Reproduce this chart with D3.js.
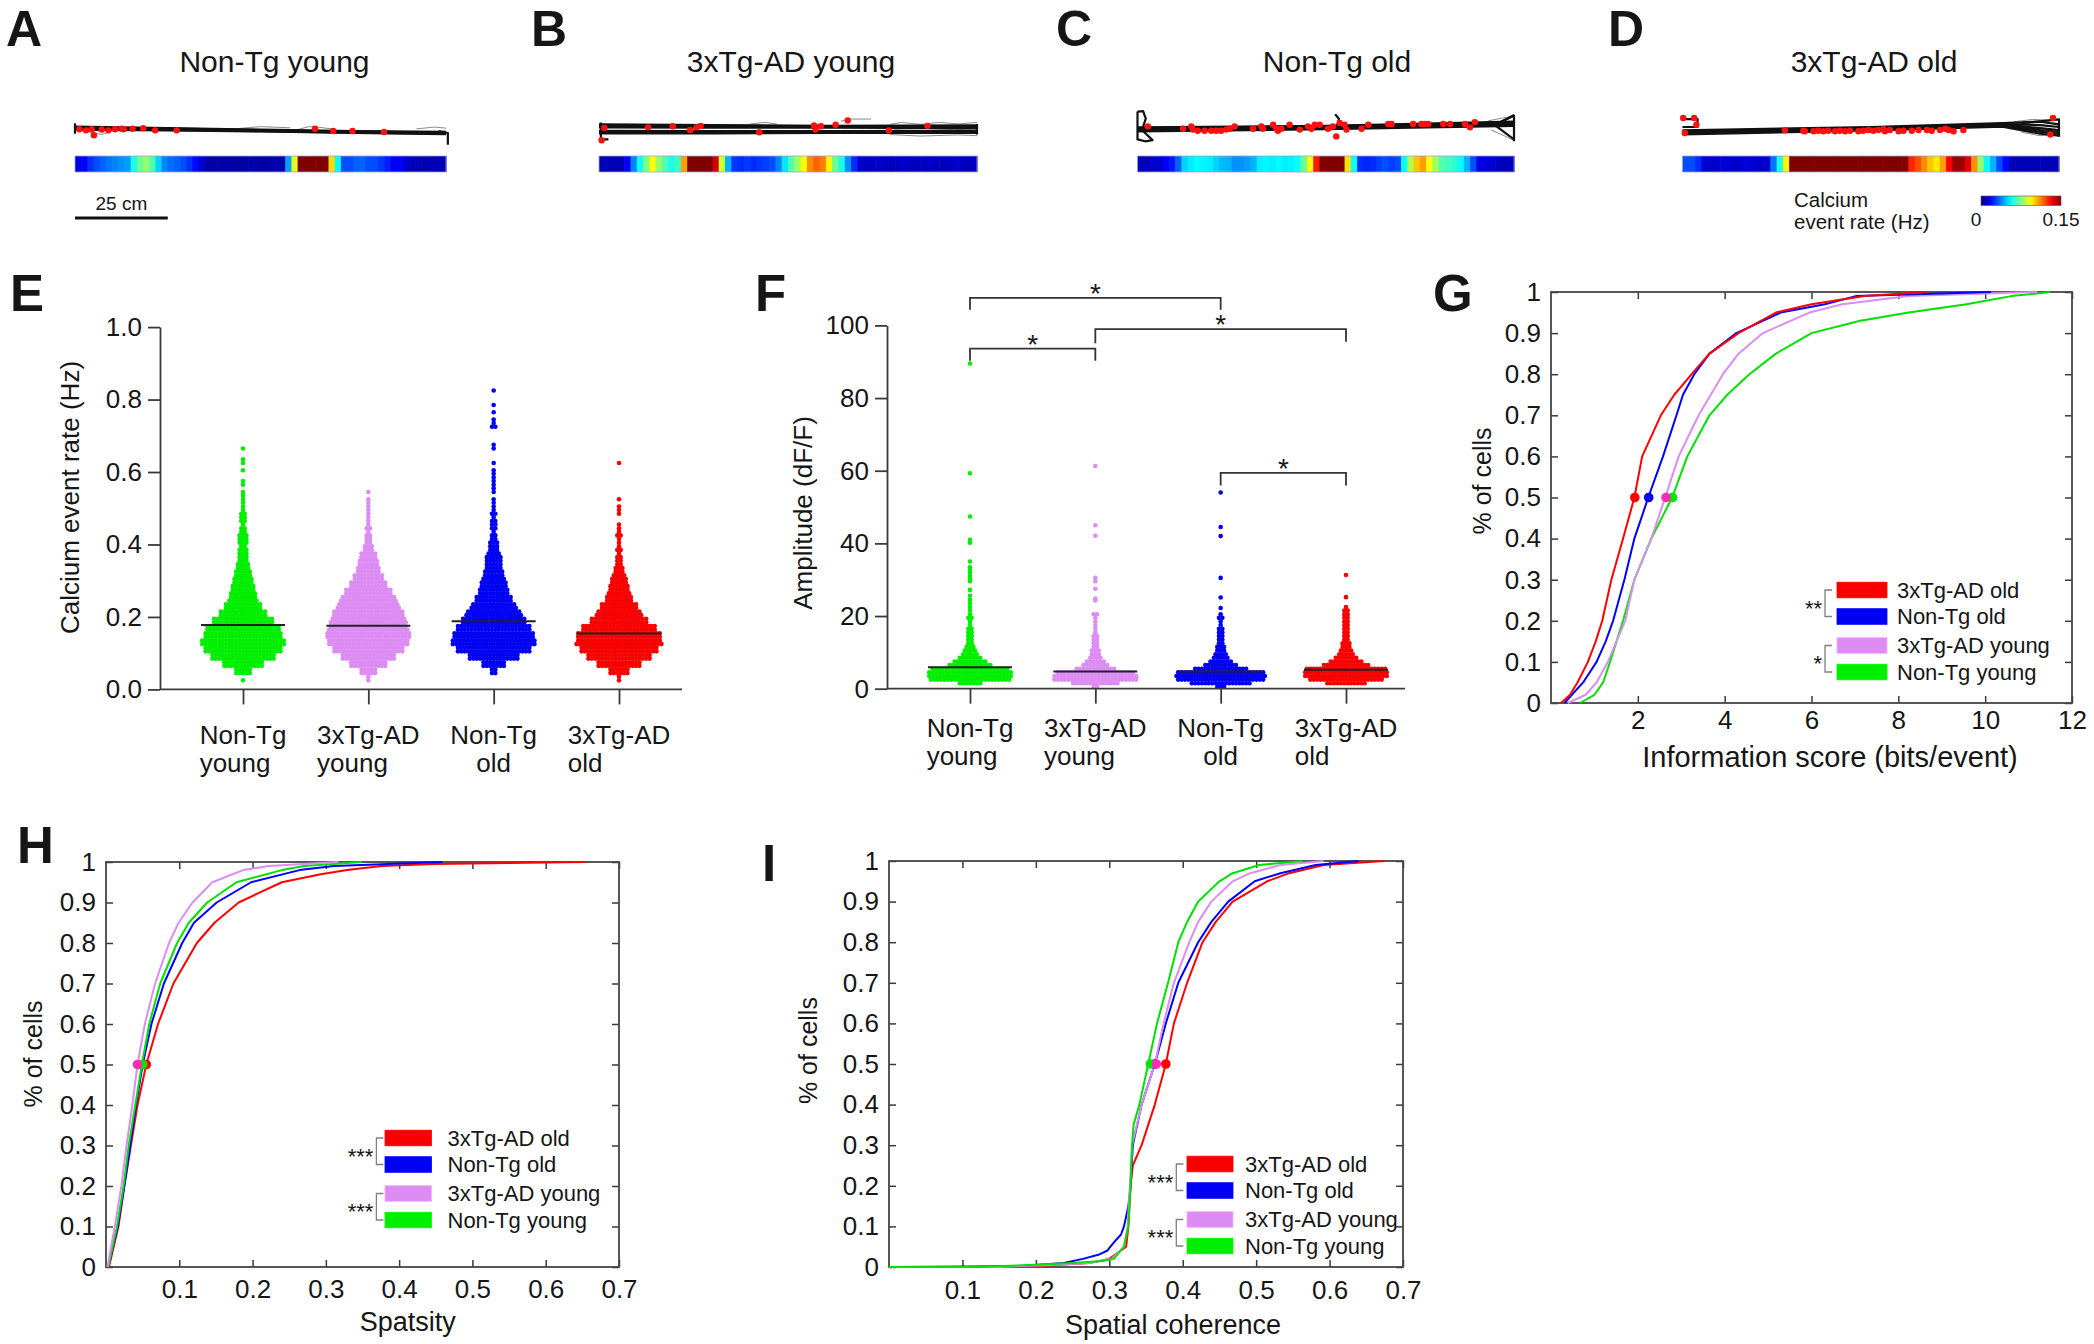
<!DOCTYPE html>
<html><head><meta charset="utf-8">
<script src="https://cdn.jsdelivr.net/npm/d3@7"></script>
<style>
body{margin:0;background:#fff}
svg{display:block}
text{font-family:"Liberation Sans",Arial,Helvetica,sans-serif;fill:#161616}
</style>
</head><body>
<svg id="fig" width="2094" height="1344"></svg>
<script>
// ===================== DATA =====================
const groups = ["Non-Tg young","3xTg-AD young","Non-Tg old","3xTg-AD old"];
const groupLines = [["Non-Tg","young"],["3xTg-AD","young"],["Non-Tg","old"],["3xTg-AD","old"]];
const trackTitles = ["Non-Tg young","3xTg-AD young","Non-Tg old","3xTg-AD old"];
const trackLetters = ["A","B","C","D"];

// Calcium event rate (Hz) along the 100 cm track, 60 spatial bins
const heatA = [0.015,0.018,0.026,0.030,0.033,0.036,0.038,0.040,0.042,0.060,
 0.072,0.078,0.068,0.050,0.038,0.035,0.033,0.030,0.026,0.020,
 0.012,0.006,0.005,0.006,0.007,0.006,0.005,0.006,0.007,0.006,
 0.005,0.006,0.007,0.006,0.042,0.090,0.150,0.150,0.150,0.150,
 0.150,0.099,0.057,0.030,0.030,0.033,0.033,0.030,0.030,0.027,
 0.023,0.018,0.018,0.012,0.008,0.008,0.007,0.008,0.008,0.008];
const heatB = [0.008,0.008,0.008,0.008,0.018,0.038,0.057,0.075,0.093,0.078,
 0.068,0.060,0.065,0.108,0.150,0.150,0.150,0.150,0.138,0.087,
 0.045,0.027,0.025,0.027,0.025,0.027,0.028,0.030,0.038,0.053,
 0.068,0.080,0.093,0.111,0.117,0.113,0.095,0.072,0.060,0.040,
 0.025,0.012,0.010,0.010,0.011,0.010,0.009,0.010,0.011,0.010,
 0.009,0.010,0.011,0.010,0.009,0.010,0.011,0.010,0.009,0.010];
const heatC = [0.009,0.009,0.012,0.012,0.018,0.022,0.033,0.050,0.054,0.056,
 0.055,0.054,0.050,0.046,0.045,0.040,0.040,0.042,0.045,0.054,
 0.055,0.054,0.056,0.054,0.055,0.057,0.072,0.093,0.128,0.150,
 0.150,0.150,0.150,0.098,0.057,0.025,0.024,0.025,0.028,0.030,
 0.028,0.030,0.057,0.083,0.102,0.108,0.093,0.080,0.068,0.066,
 0.063,0.057,0.045,0.030,0.015,0.014,0.012,0.010,0.009,0.009];
const heatD = [0.030,0.030,0.025,0.012,0.011,0.012,0.013,0.012,0.011,0.012,
 0.013,0.012,0.011,0.012,0.036,0.060,0.095,0.150,0.150,0.150,
 0.150,0.150,0.150,0.150,0.150,0.150,0.150,0.150,0.150,0.150,
 0.150,0.150,0.150,0.150,0.150,0.150,0.126,0.120,0.111,0.102,
 0.097,0.108,0.132,0.146,0.146,0.135,0.110,0.078,0.057,0.045,
 0.030,0.020,0.008,0.008,0.008,0.008,0.008,0.008,0.008,0.008];

// Running trajectories: [position along track (cm), lateral offset (cm)]
const trajA = [
 [[0,-0.9],[25,-0.5],[50,-0.1],[75,0.3],[100,0.5]],
 [[0,-0.6],[25,-0.35],[50,0.0],[75,0.4],[100,0.65]],
 [[0,-0.5],[25,-0.3],[50,0.1],[75,0.5],[100,0.8]],
 [[0,-0.3],[25,0.0],[50,0.3],[75,0.7],[100,1.0]],
 [[0,-0.7],[25,-0.2],[50,0.2],[75,0.4],[100,0.7]],
 [[0,-0.1],[25,0.1],[50,0.4],[75,0.8],[100,1.1]],
 [[0,-1.8],[0,1.0]],
 [[98,0.3],[100.5,0.8],[100.5,4.0]]];
const fuzzA = [[[44,-0.4],[50,-0.9],[58,-0.6]],[[92,-0.3],[97,-0.8],[100,-0.5]],[[4,0.6],[7,1.2],[9,0.7]],[[60,-0.1],[63,-0.9],[66,-0.7],[70,-0.2]]];
const trajB = [
 [[0,-1.5],[30,-1.3],[60,-1.1],[100,-1.2]],
 [[0,-1.2],[30,-1.05],[60,-0.9],[100,-0.95]],
 [[0,-1.0],[30,-0.9],[60,-0.8],[100,-0.8]],
 [[0,-0.7],[30,-0.6],[60,-0.6],[100,-0.5]],
 [[0,0.2],[30,0.3],[60,0.3],[100,0.2]],
 [[0,0.45],[30,0.5],[60,0.45],[100,0.4]],
 [[0,0.6],[30,0.65],[60,0.6],[100,0.55]],
 [[0,0.9],[30,0.9],[60,0.8],[100,0.8]],
 [[0.5,-2.0],[0.5,2.5],[2.5,2.5]],
 [[100,-1.6],[100,1.2]]];
const fuzzB = [[[77,-1.5],[80,-2.0],[85,-1.5],[90,-2.0],[95,-1.6],[100,-2.0]],
 [[77,1.2],[85,1.6],[95,1.3],[100,1.5]],[[64,-2.3],[66,-2.9],[72,-2.9]],[[40,-1.6],[44,-2.0],[47,-1.6]],
 [[78,-0.2],[86,-0.4],[94,-0.1],[100,-0.3]]];
const trajC = [
 [[0,-0.7],[50,-1.1],[100,-2.2]],
 [[0,-0.5],[50,-0.95],[100,-2.0]],
 [[0,-0.3],[50,-0.8],[100,-1.8]],
 [[0,-0.1],[50,-0.65],[100,-1.6]],
 [[0,0.1],[50,-0.5],[100,-1.4]],
 [[0,0.4],[50,-0.2],[100,-1.1]],
 [[0,-4.9],[1.5,-5.0],[2.2,-3.0],[1.2,0],[4.0,2.7],[2.0,3.0],[0,2.5],[0,-4.9]],
 [[52.5,-4.2],[53.5,-3.0],[53,-1.0]],
 [[95,-1.5],[100,-3.8],[100,3.0]],
 [[95,-1.2],[100,2.5]],
 [[96,-1.8],[100,-4.0]]];
const fuzzC = [[[93,-2.4],[97,-3.2],[100,-3.6]],[[94,0],[98,1.8],[100,2.8]]];
const trajD = [
 [[0,0.1],[50,-0.8],[85,-1.8],[95,-2.2],[100,-1.5]],
 [[0,0.3],[50,-0.65],[85,-1.65],[95,-1.3],[100,-0.8]],
 [[0,0.5],[50,-0.5],[85,-1.5],[95,-0.5],[100,0]],
 [[0,0.7],[50,-0.35],[85,-1.35],[95,0],[100,0.5]],
 [[0,0.9],[50,-0.2],[85,-1.2],[95,0.5],[100,1.0]],
 [[0,1.2],[50,0.1],[85,-0.9],[95,1.0],[100,1.5]],
 [[0,-2.9],[4,-2.9],[4,-0.8],[0,-0.8]],
 [[90,-1.8],[100,-2.8],[100,1.8]]];
const fuzzD = [[[88,-2.2],[93,-2.8],[98,-2.6]],[[90,0.6],[95,1.5],[99,1.2]]];

// Calcium events: [position (cm), lateral offset (cm)]
const eventsA = [[1.2,-0.2],[3.0,0.1],[4.5,-0.2],[5.1,1.4],[7.2,-0.15],[9.0,0.1],[10.8,-0.2],[12.6,-0.35],[13.1,-0.2],
 [15.5,-0.35],[18.4,-0.5],[21.6,0.1],[27.4,0.1],[64.7,-0.35],[69.6,0.27],[74.8,0.27],[83.3,0.54]];
const eventsB = [[1.4,-0.53],[0.7,2.7],[13.0,-0.7],[19.5,-1.0],[24.1,0],[25.8,-0.7],[26.9,-1.1],[42.4,0.6],
 [56.9,-1.2],[57.3,-0.1],[58.7,-1.0],[62.6,-1.4],[65.8,-2.5],[76.7,0.1],[86.9,-1.1]];
const eventsC = [[2.75,-0.97],[12.1,-0.35],[14.3,-0.97],[14.7,-0.1],[16.0,0.18],[17.8,0.18],[19.6,0.18],[20.9,0.18],
 [22.2,0.18],[23.6,-0.1],[24.5,-0.35],[25.8,-0.97],[30.7,-0.35],[32.9,-0.97],[33.3,-0.35],[36.0,-1.4],[36.9,-0.35],
 [37.3,0.18],[38.2,-0.35],[40.4,-1.4],[43.1,-0.1],[45.3,-0.97],[46.2,-0.35],[47.1,-1.4],[48.4,-1.4],[50.6,-0.35],
 [51.9,-0.97],[52.8,1.7],[53.7,-1.86],[55.0,-1.4],[55.5,-0.1],[59.5,-0.35],[61.3,-1.4],[66.6,-1.6],[67.5,-1.6],
 [73.2,-1.6],[75.4,-1.6],[76.3,-1.6],[77.2,-1.6],[81.2,-1.6],[83.0,-1.6],[87.0,-1.6],[88.3,-0.7],[89.6,-2.1]];
const eventsD = [[0.18,-3.2],[3.1,-3.2],[3.7,-1.4],[0.62,0.8],[98.4,-3.2],[97.7,1.2],
 [27.2,0.09],[32.1,0.18],[32.5,0.35],[34.8,0.35],[36.1,0.18],[37.4,0.35],[38.7,0.18],[40.5,0.35],[41.8,0.18],
 [43.2,0.35],[44.5,0.18],[46.7,0.35],[48.0,0.18],[49.4,0],[50.7,0.18],[52.0,0],[53.4,-0.18],[53.8,0.35],
 [55.1,0],[57.4,0.35],[58.7,0.18],[60.9,0.18],[62.7,0],[64.9,0],[66.2,0.18],[68.4,0],[69.8,-0.35],[70.7,0],
 [72.0,0.35],[74.6,0]];

const scaleBarCm = 25;
const colorbarDomain = [0, 0.15];
const colorbarLabels = ["0", "0.15"];

// E: calcium event rate — number of cells per 0.02 Hz bin (from 0 Hz)
const rateBinWidth = 0.02;
const rateCountsNonTgYoung = [0,1,10,24,38,46,50,46,44,36,28,22,17,15,13,11,9,7,6,5,6,5,3,4,3,2,2,1,2,0,1,2,0,1];
const rateCounts3xTgYoung = [0,2,10,22,32,42,48,50,47,45,42,37,33,28,22,18,14,12,10,6,4,3,3,2,2,2,1,1];
const rateCountsNonTgOld = [0,0,4,14,30,44,50,48,44,38,33,27,22,18,16,13,11,10,9,6,5,3,4,3,3,2,1,2,2,2,1,1,0,2,0,0,3,1,1,1,0,1];
const rateCounts3xTgOld = [0,2,12,26,38,46,51,50,44,34,27,22,16,13,11,9,6,4,3,3,2,3,2,0,2,1,1,0,0,0,0,1];
const rateMeans = [0.178, 0.176, 0.188, 0.154];
const rateTicks = [0, 0.2, 0.4, 0.6, 0.8, 1.0];

// F: amplitude — number of cells per 1 dF/F bin (from 0), plus isolated high values
const ampBinWidth = 1;
const ampCountsNonTgYoung = [0,7,24,25,25,23,13,10,7,5,4,3,2,2,2,2,2,1,1,2,1,1,1,1,1];
const ampCounts3xTgYoung = [2,14,25,25,23,12,8,6,4,3,3,2,2,2,2,1,1,1,1,1,2];
const ampCountsNonTgOld = [3,18,26,27,26,16,10,7,5,4,3,3,2,2,2,2,2,1,1,2,1];
const ampCounts3xTgOld = [0,12,22,25,25,24,14,10,7,5,4,3,3,2,2,2,2,2,2,2,2,2,1];
const ampHighNonTgYoung = [89.5,59.3,47.4,41.0,40.2,35.0,33.4,32.8,32.0,31.0,30.2,29.6,27.2,25.6];
const ampHigh3xTgYoung = [61.3,45.0,42.1,30.5,29.6,27.5,24.8,24.3];
const ampHighNonTgOld = [54.0,44.5,42.0,30.5,25.1,22.2];
const ampHigh3xTgOld = [31.3,25.2];
const ampMeans = [5.9, 4.7, 4.7, 5.2];
const ampTicks = [0, 20, 40, 60, 80, 100];
// significance brackets: group pair, bar level, drop levels (dF/F units)
const ampSigPairs = [[0,2],[0,1],[1,3],[2,3]];
const ampSigBar = [107.6, 93.6, 99.0, 59.4];
const ampSigDrop = [[104.3,104.3],[90.3,90.3],[95.1,95.5],[55.9,55.9]];
const ampSigLabel = ["*","*","*","*"];

// G: cumulative distributions of information score, [bits/event, fraction]
const infoNonTgYoung = [[0.67,0],[1.0,0.02],[1.2,0.05],[1.36,0.1],[1.51,0.15],[1.66,0.2],[1.92,0.3],[2.31,0.4],[2.79,0.5],[3.14,0.6],[3.65,0.7],[4.06,0.75],[4.57,0.8],[5.18,0.85],[6.0,0.9],[7.12,0.93],[8.24,0.95],[9.57,0.97],[10.6,0.99],[11.5,1]];
const info3xTgYoung = [[0.39,0],[0.8,0.02],[1.05,0.05],[1.31,0.1],[1.51,0.15],[1.71,0.2],[1.92,0.3],[2.31,0.4],[2.63,0.5],[2.94,0.6],[3.40,0.7],[3.96,0.8],[4.32,0.85],[4.88,0.9],[5.95,0.95],[6.71,0.97],[8.24,0.99],[11.2,1]];
const infoNonTgOld = [[0.31,0],[0.74,0.05],[1.05,0.1],[1.26,0.15],[1.43,0.2],[1.69,0.3],[1.92,0.4],[2.24,0.5],[2.58,0.6],[2.89,0.7],[3.04,0.75],[3.30,0.8],[3.65,0.85],[4.27,0.9],[5.29,0.95],[6.31,0.97],[7.02,0.99],[10.13,1]];
const info3xTgOld = [[0.23,0],[0.44,0.02],[0.61,0.05],[0.85,0.1],[1.03,0.15],[1.18,0.2],[1.39,0.3],[1.66,0.4],[1.92,0.5],[2.10,0.6],[2.53,0.7],[2.84,0.75],[3.24,0.8],[3.65,0.85],[4.32,0.9],[5.18,0.95],[6.0,0.97],[7.22,0.99],[8.65,1]];
const infoMedians = [2.8, 2.65, 2.25, 1.93];
const infoTicks = [2,4,6,8,10,12];
const infoSig = ["**","*"];

// H: sparsity
const sparNonTgYoung = [[0.003,0],[0.015,0.1],[0.024,0.2],[0.031,0.3],[0.040,0.4],[0.049,0.5],[0.059,0.6],[0.074,0.7],[0.097,0.8],[0.113,0.85],[0.138,0.9],[0.178,0.95],[0.240,0.98],[0.270,0.99],[0.349,1]];
const spar3xTgYoung = [[0.002,0],[0.012,0.1],[0.021,0.2],[0.028,0.3],[0.036,0.4],[0.043,0.5],[0.053,0.6],[0.067,0.7],[0.086,0.8],[0.099,0.85],[0.118,0.9],[0.145,0.95],[0.187,0.98],[0.222,0.99],[0.317,1]];
const sparNonTgOld = [[0.003,0],[0.016,0.1],[0.025,0.2],[0.033,0.3],[0.041,0.4],[0.050,0.5],[0.062,0.6],[0.079,0.7],[0.104,0.8],[0.120,0.85],[0.151,0.9],[0.198,0.95],[0.264,0.98],[0.311,0.99],[0.459,1]];
const spar3xTgOld = [[0.004,0],[0.017,0.1],[0.025,0.2],[0.034,0.3],[0.043,0.4],[0.055,0.5],[0.071,0.6],[0.092,0.7],[0.124,0.8],[0.148,0.85],[0.181,0.9],[0.216,0.93],[0.240,0.95],[0.293,0.97],[0.329,0.98],[0.376,0.99],[0.447,0.995],[0.654,1]];
const sparMedians = [0.050, 0.043, 0.050, 0.055];
const sparTicks = [0.1,0.2,0.3,0.4,0.5,0.6,0.7];
const sparSig = ["***","***"];

// I: spatial coherence
const cohNonTgYoung = [[0,0],[0.12,0],[0.19,0.005],[0.25,0.01],[0.291,0.015],[0.306,0.02],[0.320,0.05],[0.326,0.1],[0.329,0.2],[0.331,0.3],[0.333,0.35],[0.341,0.4],[0.353,0.5],[0.365,0.6],[0.380,0.7],[0.394,0.8],[0.406,0.85],[0.421,0.9],[0.450,0.95],[0.468,0.97],[0.504,0.99],[0.563,1]];
const coh3xTgYoung = [[0,0],[0.15,0],[0.22,0.005],[0.273,0.01],[0.303,0.02],[0.320,0.05],[0.325,0.1],[0.328,0.2],[0.331,0.3],[0.344,0.4],[0.362,0.5],[0.374,0.6],[0.388,0.7],[0.409,0.8],[0.421,0.85],[0.439,0.9],[0.468,0.95],[0.492,0.97],[0.533,0.99],[0.592,1]];
const cohNonTgOld = [[0,0],[0.178,0.002],[0.2,0.005],[0.238,0.01],[0.264,0.02],[0.285,0.03],[0.297,0.04],[0.306,0.06],[0.316,0.08],[0.320,0.1],[0.326,0.15],[0.329,0.2],[0.332,0.3],[0.338,0.35],[0.344,0.4],[0.362,0.5],[0.377,0.6],[0.394,0.7],[0.421,0.8],[0.439,0.85],[0.462,0.9],[0.498,0.95],[0.533,0.97],[0.581,0.99],[0.640,1]];
const coh3xTgOld = [[0,0],[0.15,0],[0.22,0.004],[0.273,0.01],[0.300,0.02],[0.323,0.05],[0.326,0.1],[0.329,0.2],[0.332,0.25],[0.344,0.3],[0.353,0.35],[0.362,0.4],[0.377,0.5],[0.388,0.6],[0.406,0.7],[0.427,0.8],[0.445,0.85],[0.468,0.9],[0.515,0.95],[0.545,0.97],[0.592,0.99],[0.675,1]];
const cohMedians = [0.356, 0.364, 0.362, 0.377];
const cohTicks = [0.1,0.2,0.3,0.4,0.5,0.6,0.7];
const cohSig = ["***","***"];

const cdfTicksY = [0,0.1,0.2,0.3,0.4,0.5,0.6,0.7,0.8,0.9,1];
const legendOrder = [3,2,1,0];

// ===================== STYLE =====================
const FONT = '"Liberation Sans", Arial, Helvetica, sans-serif';
const palette = ["#00ee00","#dc8cf2","#0000f5","#f80000"];
const medianPalette = ["#00e600","#ff2db4","#0000ff","#ff0000"];
const lineColors = ["#00e000","#d98ef0","#0000ff","#ff0000"];
const AX = "#3a3a3a";

const svg = d3.select("#fig");

// jet colormap (MATLAB-style)
function jet(t){
  t = Math.max(0, Math.min(1, t));
  const c = v => Math.round(255*Math.max(0, Math.min(1, 1.5 - Math.abs(v))));
  return d3.rgb(c(4*t-3), c(4*t-2), c(4*t-1)).formatHex();
}
const heatColor = d3.scaleSequential(jet).domain(colorbarDomain);

// ===================== A–D =====================
const trackLayout = [
  {x0:75, x1:446, cx:274.5, lx:6},
  {x0:599, x1:977, cx:791, lx:531},
  {x0:1137.5, x1:1514, cx:1337, lx:1056},
  {x0:1682.5, x1:2059, cx:1874, lx:1608}];
const heats = [heatA, heatB, heatC, heatD];
const trajs = [trajA, trajB, trajC, trajD];
const fuzzs = [fuzzA, fuzzB, fuzzC, fuzzD];
const evs = [eventsA, eventsB, eventsC, eventsD];
let xsA;
trackLayout.forEach((L, p) => {
  const g = svg.append("g");
  const xs = d3.scaleLinear().domain([0,100]).range([L.x0, L.x1]);
  if (p === 0) xsA = xs;
  const ppc = (L.x1 - L.x0)/100;
  const ys = d3.scaleLinear().domain([0,1]).range([130, 130 + ppc]);
  g.append("text").attr("x", L.lx).attr("y", 46).attr("font-size", 50).attr("font-weight", "bold").text(trackLetters[p]);
  g.append("text").attr("x", L.cx).attr("y", 72).attr("text-anchor", "middle").attr("font-size", 30).text(trackTitles[p]);
  const line = d3.line().x(d => xs(d[0])).y(d => ys(d[1]));
  g.selectAll(null).data(fuzzs[p]).join("path").attr("d", line).attr("fill","none").attr("stroke","#8a8a8a").attr("stroke-width",1);
  g.selectAll(null).data(trajs[p]).join("path").attr("d", line).attr("fill","none").attr("stroke","#111").attr("stroke-width",2.2).attr("stroke-linejoin","round");
  g.selectAll(null).data(evs[p]).join("circle").attr("cx", d => xs(d[0])).attr("cy", d => ys(d[1])).attr("r", 3.2).attr("fill", "#ff1010");
  const n = heats[p].length, bw = 100/n;
  g.selectAll(null).data(heats[p]).join("rect")
    .attr("x", (d,i) => xs(i*bw)).attr("width", (d,i) => xs((i+1)*bw) - xs(i*bw) + 0.6)
    .attr("y", 156).attr("height", 16).attr("fill", d => heatColor(d));
  g.append("rect").attr("x", xs(0)).attr("y", 156).attr("width", xs(100)-xs(0)).attr("height", 16)
    .attr("fill","none").attr("stroke","#a0a0d0").attr("stroke-width",0.8);
});
// scale bar
svg.append("line").attr("x1", xsA(0)).attr("x2", xsA(scaleBarCm)).attr("y1", 218).attr("y2", 218).attr("stroke","#111").attr("stroke-width",3);
svg.append("text").attr("x", (xsA(0)+xsA(scaleBarCm))/2).attr("y", 210).attr("text-anchor","middle").attr("font-size",19).text(scaleBarCm + " cm");
// colorbar
{
  const cx = d3.scaleLinear().domain(colorbarDomain).range([1981, 2061]);
  const grad = svg.append("defs").append("linearGradient").attr("id","jetgrad");
  d3.range(0, 1.0001, 0.05).forEach(t => grad.append("stop").attr("offset", t).attr("stop-color", jet(t)));
  svg.append("rect").attr("x", cx(0)).attr("y", 196).attr("width", cx(0.15)-cx(0)).attr("height", 9.5)
    .attr("fill","url(#jetgrad)").attr("stroke","#555").attr("stroke-width",0.6);
  svg.append("text").attr("x", cx(0)-5).attr("y", 226).attr("text-anchor","middle").attr("font-size",19).text(colorbarLabels[0]);
  svg.append("text").attr("x", cx(0.15)).attr("y", 226).attr("text-anchor","middle").attr("font-size",19).text(colorbarLabels[1]);
  svg.append("text").attr("x", 1794).attr("y", 207).attr("font-size",20.5).text("Calcium");
  svg.append("text").attr("x", 1794).attr("y", 229).attr("font-size",20.5).text("event rate (Hz)");
}

// ===================== E & F (scatter/swarm) =====================
function swarm(g, cx, yScale, counts, binW, rowsPerBin, color){
  counts.forEach((c, k) => {
    for (let r = 0; r < rowsPerBin; r++){
      const n = Math.floor(c/rowsPerBin) + (r < c % rowsPerBin ? 1 : 0);
      const v = k*binW + (r + 0.5)*binW/rowsPerBin;
      for (let j = 0; j < n; j++){
        g.append("circle").attr("cx", cx + (j - (n-1)/2)*3.4).attr("cy", yScale(v)).attr("r", 2.3).attr("fill", color);
      }
    }
  });
}
function styleAxis(sel, fs){
  sel.attr("font-family", FONT).attr("font-size", fs);
  sel.selectAll("line").attr("stroke", AX).attr("stroke-width", 1.8);
  sel.selectAll("path.domain").attr("stroke", AX).attr("stroke-width", 1.8);
  sel.selectAll("text").attr("fill", "#1a1a1a");
}
const labelAlign = ["start","start","middle","start"];
function catLabels(g, xScale, base1, base2){
  groupLines.forEach((lines, i) => {
    const t1 = g.append("text").attr("x", xScale(i)).attr("y", base1).attr("text-anchor","middle").attr("font-size",26).text(lines[0]);
    const w = t1.node().getComputedTextLength();
    if (labelAlign[i] === "start")
      g.append("text").attr("x", xScale(i) - w/2).attr("y", base2).attr("font-size",26).text(lines[1]);
    else
      g.append("text").attr("x", xScale(i)).attr("y", base2).attr("text-anchor","middle").attr("font-size",26).text(lines[1]);
  });
}
function swarmPanel(o){
  const g = svg.append("g");
  const y = d3.scaleLinear().domain(o.yDomain).range(o.yRange);
  const x = d3.scalePoint().domain(d3.range(4)).range(o.xRange);
  o.counts.forEach((c, i) => swarm(g, x(i), y, c, o.binW, o.rows, palette[i]));
  if (o.high) o.high.forEach((arr, i) => arr.forEach(v =>
    g.append("circle").attr("cx", x(i)).attr("cy", y(v)).attr("r", 2.3).attr("fill", palette[i])));
  o.means.forEach((m, i) => g.append("line").attr("x1", x(i)-42).attr("x2", x(i)+42).attr("y1", y(m)).attr("y2", y(m))
    .attr("stroke","#222").attr("stroke-width",2));
  const ya = g.append("g").attr("transform", `translate(${o.axisX},0)`)
    .call(d3.axisLeft(y).tickValues(o.ticks).tickFormat(o.fmt).tickSize(12).tickPadding(6).tickSizeOuter(0));
  styleAxis(ya, 26);
  g.append("line").attr("x1", o.axisX).attr("x2", o.axisEnd).attr("y1", y(0)).attr("y2", y(0)).attr("stroke", AX).attr("stroke-width",1.8);
  const xa = g.append("g").attr("transform", `translate(0,${y(0)})`).call(d3.axisBottom(x).tickSize(15).tickFormat(""));
  xa.select(".domain").remove();
  styleAxis(xa, 25);
  catLabels(g, x, o.lab1, o.lab2);
  g.append("text").attr("transform", `translate(${o.titleX},${o.titleY}) rotate(-90)`).attr("text-anchor","middle").attr("font-size",26).text(o.title);
  g.append("text").attr("x", o.letterX).attr("y", 311).attr("font-size",51).attr("font-weight","bold").text(o.letter);
  return {g, x, y};
}
swarmPanel({letter:"E", letterX:10, yDomain:[0,1], yRange:[689.4,327.1], xRange:[243,619], axisX:160, axisEnd:682,
  counts:[rateCountsNonTgYoung, rateCounts3xTgYoung, rateCountsNonTgOld, rateCounts3xTgOld], binW:rateBinWidth, rows:2,
  means:rateMeans, ticks:rateTicks, fmt:d3.format(".1f"), lab1:744, lab2:771.5,
  title:"Calcium event rate (Hz)", titleX:79, titleY:497.5});
const F = swarmPanel({letter:"F", letterX:755, yDomain:[0,100], yRange:[688.7,325.4], xRange:[970,1346], axisX:887, axisEnd:1405,
  counts:[ampCountsNonTgYoung, ampCounts3xTgYoung, ampCountsNonTgOld, ampCounts3xTgOld], binW:ampBinWidth, rows:1,
  high:[ampHighNonTgYoung, ampHigh3xTgYoung, ampHighNonTgOld, ampHigh3xTgOld],
  means:ampMeans, ticks:ampTicks, fmt:d3.format("d"), lab1:737, lab2:764.5,
  title:"Amplitude (dF/F)", titleX:812, titleY:513});
ampSigPairs.forEach((pr, k) => {
  const xa = F.x(pr[0]), xb = F.x(pr[1]), yb = F.y(ampSigBar[k]);
  F.g.append("path").attr("d", `M${xa},${F.y(ampSigDrop[k][0])}V${yb}H${xb}V${F.y(ampSigDrop[k][1])}`)
    .attr("fill","none").attr("stroke","#333").attr("stroke-width",1.8);
  F.g.append("text").attr("x", (xa+xb)/2).attr("y", yb + 5).attr("text-anchor","middle").attr("font-size",28).text(ampSigLabel[k]);
});

// ===================== G, H, I (cumulative) =====================
function cdfPanel(o){
  const [bx0, by0, bx1, by1] = o.box;
  const x = d3.scaleLinear().domain(o.xDomain).range([bx0, bx1]);
  const y = d3.scaleLinear().domain([0,1]).range([by1, by0]);
  const g = svg.append("g");
  const fmtY = d => (d === 0 || d === 1) ? String(d) : d.toFixed(1);
  const axes = [
    g.append("g").attr("transform", `translate(${bx0},0)`).call(d3.axisLeft(y).tickValues(cdfTicksY).tickFormat(fmtY).tickSize(-7).tickPadding(10)),
    g.append("g").attr("transform", `translate(${bx1},0)`).call(d3.axisRight(y).tickValues(cdfTicksY).tickFormat("").tickSize(-7)),
    g.append("g").attr("transform", `translate(0,${by1})`).call(d3.axisBottom(x).tickValues(o.xTicks).tickFormat(o.xFmt).tickSize(-7).tickPadding(o.xPad)),
    g.append("g").attr("transform", `translate(0,${by0})`).call(d3.axisTop(x).tickValues(o.xTicks).tickFormat("").tickSize(-7))];
  axes.forEach(a => { a.select(".domain").remove(); styleAxis(a, 26); a.selectAll("line").attr("stroke-width",1.5); });
  g.append("rect").attr("x", bx0).attr("y", by0).attr("width", bx1-bx0).attr("height", by1-by0)
    .attr("fill","none").attr("stroke", "#454545").attr("stroke-width", 1.8);
  const line = d3.line().x(d => x(d[0])).y(d => y(d[1]));
  o.drawOrder.forEach(i => g.append("path").attr("d", line(o.series[i])).attr("fill","none")
    .attr("stroke", lineColors[i]).attr("stroke-width", 2).attr("stroke-linejoin","round"));
  o.medOrder.forEach(i => g.append("circle").attr("cx", x(o.medians[i])).attr("cy", y(0.5)).attr("r", 4.8).attr("fill", medianPalette[i]));
  // legend
  const offs = [0, 26.5, 55.5, 82];
  legendOrder.forEach((gi, r) => {
    const cy = o.leg.y + offs[r];
    g.append("rect").attr("x", o.leg.sx).attr("y", cy - 7.8).attr("width", o.leg.sw).attr("height", 15.6)
      .attr("fill", palette[gi]).attr("stroke", d3.color(palette[gi]).brighter(0.6)).attr("stroke-width", 0.8);
    g.append("text").attr("x", o.leg.tx).attr("y", cy + 7.8).attr("font-size", 22).text(groups[gi]);
  });
  [[0,1],[2,3]].forEach((pr, k) => {
    const ya = o.leg.y + offs[pr[0]], yb = o.leg.y + offs[pr[1]];
    g.append("path").attr("d", `M${o.leg.bx+7},${ya}H${o.leg.bx}V${yb}H${o.leg.bx+7}`)
      .attr("fill","none").attr("stroke","#808080").attr("stroke-width",1.3);
    g.append("text").attr("x", o.leg.bx - 3).attr("y", (ya+yb)/2 + 12.5).attr("text-anchor","end").attr("font-size",22).text(o.sig[k]);
  });
  g.append("text").attr("x", o.xtitle[1]).attr("y", o.xtitle[2]).attr("text-anchor","middle").attr("font-size",o.xtitle[3]).text(o.xtitle[0]);
  g.append("text").attr("transform", `translate(${o.ytitle[0]},${o.ytitle[1]}) rotate(-90)`).attr("text-anchor","middle").attr("font-size",25).text("% of cells");
  g.append("text").attr("x", o.letter[1]).attr("y", o.letter[2]).attr("font-size",51).attr("font-weight","bold").text(o.letter[0]);
}
cdfPanel({box:[1551,292,2072,703], xDomain:[0,12], xTicks:infoTicks, xFmt:d3.format("d"), xPad:8,
  series:[infoNonTgYoung, info3xTgYoung, infoNonTgOld, info3xTgOld], drawOrder:[0,1,2,3],
  medians:infoMedians, medOrder:[0,1,2,3],
  leg:{y:590, sx:1837, sw:50, tx:1897, bx:1825}, sig:infoSig,
  xtitle:["Information score (bits/event)", 1830, 767, 29], ytitle:[1491, 481], letter:["G",1433,311]});
cdfPanel({box:[106,862,619,1267], xDomain:[0,0.7], xTicks:sparTicks, xFmt:d3.format(".1f"), xPad:13,
  series:[sparNonTgYoung, spar3xTgYoung, sparNonTgOld, spar3xTgOld], drawOrder:[3,2,0,1],
  medians:sparMedians, medOrder:[2,3,0,1],
  leg:{y:1138, sx:385, sw:46.5, tx:447.5, bx:376.4}, sig:sparSig,
  xtitle:["Spatsity", 407.7, 1331, 27], ytitle:[42, 1054], letter:["H",17,863]});
cdfPanel({box:[889,861,1403,1267], xDomain:[0,0.7], xTicks:cohTicks, xFmt:d3.format(".1f"), xPad:14,
  series:[cohNonTgYoung, coh3xTgYoung, cohNonTgOld, coh3xTgOld], drawOrder:[3,2,1,0],
  medians:cohMedians, medOrder:[2,3,0,1],
  leg:{y:1164, sx:1187, sw:46, tx:1245, bx:1176.3}, sig:cohSig,
  xtitle:["Spatial coherence", 1173, 1334, 27], ytitle:[817, 1050.6], letter:["I",762,881]});
</script>
</body></html>
